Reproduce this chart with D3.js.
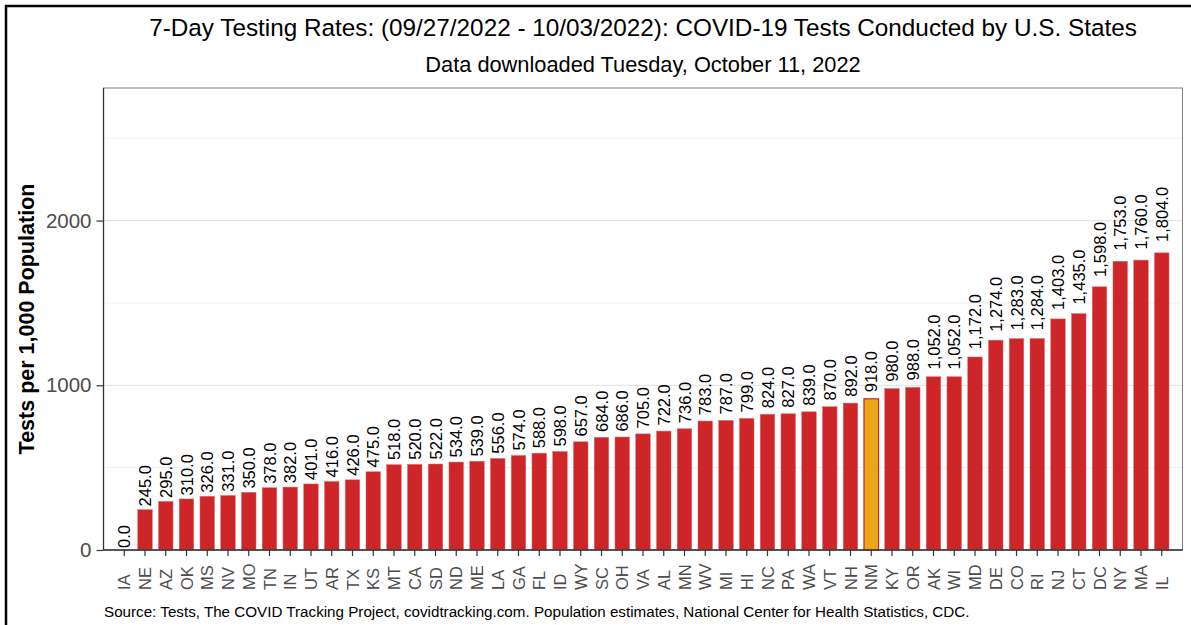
<!DOCTYPE html>
<html>
<head>
<meta charset="utf-8">
<script src="https://cdn.jsdelivr.net/npm/d3@7"></script>
<style>
  html, body { margin: 0; padding: 0; background: #fff; }
  svg { display: block; font-family: "Liberation Sans", Arial, sans-serif; }
</style>
</head>
<body>
<svg id="chart" width="1191" height="625"></svg>
<script>
const states = ["IA","NE","AZ","OK","MS","NV","MO","TN","IN","UT","AR","TX","KS","MT","CA","SD","ND","ME","LA","GA","FL","ID","WY","SC","OH","VA","AL","MN","WV","MI","HI","NC","PA","WA","VT","NH","NM","KY","OR","AK","WI","MD","DE","CO","RI","NJ","CT","DC","NY","MA","IL"];
const rates = [0,245,295,310,326,331,350,378,382,401,416,426,475,518,520,522,534,539,556,574,588,598,657,684,686,705,722,736,783,787,799,824,827,839,870,892,918,980,988,1052,1052,1172,1274,1283,1284,1403,1435,1598,1753,1760,1804];
const highlightState = "NM";
const yTicks = [0, 1000, 2000];
const yGrid = [500, 1500, 2500];
const titleText = "7-Day Testing Rates: (09/27/2022 - 10/03/2022): COVID-19 Tests Conducted by U.S. States";
const subtitleText = "Data downloaded Tuesday, October 11, 2022";
const yLabel = "Tests per 1,000 Population";
const captionText = "Source: Tests, The COVID Tracking Project, covidtracking.com. Population estimates, National Center for Health Statistics, CDC.";

const data = states.map((s, i) => ({ state: s, value: rates[i] }));

const svg = d3.select("#chart");
const W = 1191, H = 625;
const panel = { left: 103.5, right: 1182.5, top: 88, bottom: 550 };

// outer frame
svg.append("rect").attr("x", 6).attr("y", 6).attr("width", W + 10).attr("height", H + 10)
  .attr("fill", "none").attr("stroke", "#000").attr("stroke-width", 2.5);

const x = d3.scaleBand().domain(states).range([panel.left, panel.right])
  .paddingInner(0.3).paddingOuter(0.65);
const y = d3.scaleLinear().domain([0, 2805]).range([panel.bottom, panel.top]);

// grid
const g = svg.append("g");
g.selectAll("line.minor").data(yGrid).enter().append("line")
  .attr("x1", panel.left).attr("x2", panel.right)
  .attr("y1", d => y(d)).attr("y2", d => y(d))
  .attr("stroke", "#EBEBEB").attr("stroke-width", 0.8);
g.selectAll("line.major").data(yTicks).enter().append("line")
  .attr("x1", panel.left).attr("x2", panel.right)
  .attr("y1", d => y(d)).attr("y2", d => y(d))
  .attr("stroke", "#E5E5E5").attr("stroke-width", 1.2);

// bars
g.selectAll("rect.bar").data(data).enter().append("rect")
  .attr("x", d => x(d.state))
  .attr("width", x.bandwidth())
  .attr("y", d => y(d.value))
  .attr("height", d => y(0) - y(d.value))
  .attr("fill", d => d.state === highlightState ? "#EAA718" : "#CD2528")
  .attr("stroke", d => d.state === highlightState ? "#CD2528" : "#E06A6C")
  .attr("stroke-width", d => d.state === highlightState ? 1.2 : 0.5);

// value labels
const fmt = d3.format(",.1f");
g.selectAll("text.val").data(data).enter().append("text")
  .attr("transform", d => `translate(${x(d.state) + x.bandwidth() / 2 + 6}, ${y(d.value * 1.03) - 2}) rotate(-90)`)
  .attr("text-anchor", "start")
  .attr("font-size", 16.5)
  .attr("fill", "#000")
  .text(d => fmt(d.value));

// panel border
svg.append("rect").attr("x", panel.left).attr("y", panel.top)
  .attr("width", panel.right - panel.left).attr("height", panel.bottom - panel.top)
  .attr("fill", "none").attr("stroke", "#7F7F7F").attr("stroke-width", 1);

// axis lines
svg.append("line").attr("x1", panel.left).attr("x2", panel.left).attr("y1", panel.top).attr("y2", panel.bottom)
  .attr("stroke", "#333").attr("stroke-width", 1.3);
svg.append("line").attr("x1", panel.left).attr("x2", panel.right).attr("y1", panel.bottom).attr("y2", panel.bottom)
  .attr("stroke", "#333").attr("stroke-width", 1.3);

// y axis
const yAxis = svg.append("g").attr("transform", `translate(${panel.left},0)`)
  .call(d3.axisLeft(y).tickValues(yTicks).tickSize(7).tickPadding(5).tickFormat(d3.format("d")));
yAxis.select(".domain").remove();
yAxis.selectAll(".tick line").attr("stroke", "#333").attr("stroke-width", 1.2);
yAxis.selectAll(".tick text").attr("fill", "#4D4D4D").attr("font-size", 20.5)
  .attr("font-family", "Liberation Sans, Arial, sans-serif");

// x axis
const xAxis = svg.append("g").attr("transform", `translate(0,${panel.bottom})`)
  .call(d3.axisBottom(x).tickSize(6).tickPadding(0));
xAxis.select(".domain").remove();
xAxis.selectAll(".tick line").attr("stroke", "#333").attr("stroke-width", 1.2);
xAxis.selectAll(".tick text")
  .attr("fill", "#4D4D4D").attr("font-size", 16.5)
  .attr("font-family", "Liberation Sans, Arial, sans-serif")
  .attr("text-anchor", "start")
  .attr("dy", null)
  .attr("y", null)
  .attr("transform", "translate(6,40) rotate(-90)");

// y label
svg.append("text")
  .attr("transform", `translate(33.5, ${(panel.top + panel.bottom) / 2}) rotate(-90)`)
  .attr("text-anchor", "middle").attr("font-size", 21.5).attr("font-weight", "bold").attr("fill", "#000")
  .text(yLabel);

// titles
const cx = (panel.left + panel.right) / 2;
svg.append("text").attr("x", cx).attr("y", 36).attr("text-anchor", "middle")
  .attr("font-size", 24.3).attr("fill", "#000").text(titleText);
svg.append("text").attr("x", cx).attr("y", 72).attr("text-anchor", "middle")
  .attr("font-size", 21.8).attr("fill", "#000").text(subtitleText);

// caption
svg.append("text").attr("x", 104).attr("y", 616.5).attr("text-anchor", "start")
  .attr("font-size", 15.2).attr("fill", "#000").text(captionText);
</script>
</body>
</html>
